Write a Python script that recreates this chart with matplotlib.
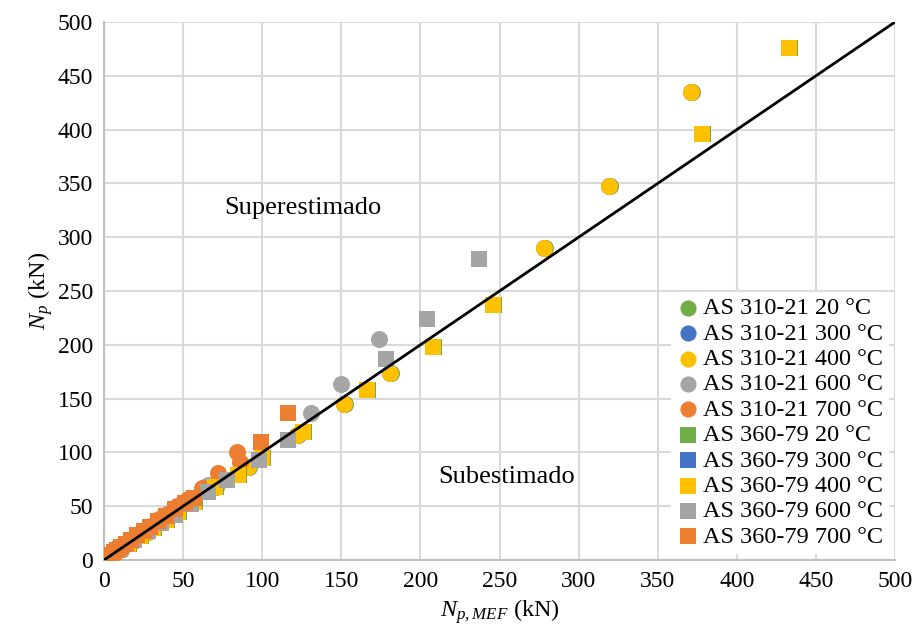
import matplotlib
matplotlib.use("Agg")
import matplotlib.pyplot as plt

plt.rcParams['font.family'] = ['Liberation Serif', 'DejaVu Serif']
plt.rcParams['mathtext.fontset'] = 'custom'
plt.rcParams['mathtext.rm'] = 'Liberation Serif'
plt.rcParams['mathtext.it'] = 'Liberation Serif:italic'

# ---- data (N_p,MEF , N_p) ----
c20_x = [5.6, 10.6, 18.6, 27.6, 36.6, 45.6, 55.6, 70.6, 91.6, 122.6, 152.6, 181.6, 278.6, 319.6, 371.6]
c20_y = [6, 10, 18, 26, 35, 44, 53, 68, 86, 116, 145, 174, 290, 348, 435]
c300_x = [5, 10, 18, 27, 36, 45, 55, 70, 91, 122, 152, 181, 278, 319, 371]
c300_y = [6, 10, 18, 26, 35, 44, 53, 68, 86, 116, 145, 174, 290, 348, 435]
c400_x = [5, 10, 18, 27, 36, 45, 55, 70, 91, 122, 152, 181, 278, 319, 371]
c400_y = [6, 10, 18, 26, 35, 44, 53, 68, 86, 116, 145, 174, 290, 348, 435]
c600_x = [8, 16, 25, 34, 44, 54, 66, 131, 150, 174]
c600_y = [9, 17, 27, 37, 47, 57, 70, 137, 164, 205]
c700_x = [3, 5, 7, 9, 12, 15, 18, 22, 26, 30, 35, 40, 46, 53, 62, 72, 84, 86]
c700_y = [4, 6, 8, 10, 13, 16, 20, 24, 28, 32, 38, 43, 50, 57, 67, 81, 100, 91]

s20_x = [8.6, 15.6, 23.6, 31.6, 39.6, 47.6, 57.6, 70.6, 85.6, 100.6, 126.6, 166.6, 208.6, 246.6, 378.6, 433.6]
s20_y = [9, 15, 22, 30, 37, 45, 54, 68, 79, 95, 119, 158, 198, 237, 396, 476]
s300_x = [8, 15, 23, 31, 39, 47, 57, 70, 85, 100, 126, 166, 208, 246, 378, 433]
s300_y = [9, 15, 22, 30, 37, 45, 54, 68, 79, 95, 119, 158, 198, 237, 396, 476]
s400_x = [8, 15, 23, 31, 39, 47, 57, 70, 85, 100, 126, 166, 208, 246, 378, 433]
s400_y = [9, 15, 22, 30, 37, 45, 54, 68, 79, 95, 119, 158, 198, 237, 396, 476]
s600_x = [10, 19, 28, 36, 45, 55, 66, 78, 98, 116, 178, 204, 237]
s600_y = [10, 19, 27, 34, 42, 52, 63, 74, 93, 112, 187, 224, 280]
s700_x = [4, 6, 8, 11, 14, 17, 21, 25, 29, 34, 39, 45, 51, 57, 99, 116]
s700_y = [5, 7, 9, 12, 15, 19, 23, 27, 31, 36, 41, 47, 53, 58, 110, 137]

ref_x = [0, 500]
ref_y = [0, 500]

labels = ['AS 310-21 20 °C', 'AS 310-21 300 °C', 'AS 310-21 400 °C',
          'AS 310-21 600 °C', 'AS 310-21 700 °C',
          'AS 360-79 20 °C', 'AS 360-79 300 °C', 'AS 360-79 400 °C',
          'AS 360-79 600 °C', 'AS 360-79 700 °C']
colors = ['#70ad47', '#4472c4', '#ffc000', '#a5a5a5', '#ed7d31'] * 2
markers = ['o'] * 5 + ['s'] * 5
series = [(c20_x, c20_y), (c300_x, c300_y), (c400_x, c400_y), (c600_x, c600_y), (c700_x, c700_y),
          (s20_x, s20_y), (s300_x, s300_y), (s400_x, s400_y), (s600_x, s600_y), (s700_x, s700_y)]

fig = plt.figure(figsize=(9.19, 6.44), dpi=100)
ax = fig.add_axes([0.1132, 0.1304, 0.8607, 0.8354])

handles = []
for (xs, ys), lab, col, mk in zip(series, labels, colors, markers):
    size = 150 if mk == 'o' else 130
    h = ax.scatter(xs, ys, s=size, marker=mk, color=col, label=lab,
                   linewidths=0, zorder=3)
    handles.append(h)

ax.plot(ref_x, ref_y, color='black', lw=2, zorder=4)

ax.set_xlim(0, 500)
ax.set_ylim(0, 500)
ax.set_xticks(range(0, 501, 50))
ax.set_yticks(range(0, 501, 50))
ax.grid(True, color='#d9d9d9', lw=1.5, zorder=0)
ax.set_axisbelow(True)
for side in ['top', 'right']:
    ax.spines[side].set_visible(False)
for side in ['left', 'bottom']:
    ax.spines[side].set_color('#bfbfbf')
    ax.spines[side].set_linewidth(1.5)
ax.tick_params(axis='both', length=0, labelsize=17, pad=8)

ax.set_xlabel(r'$N_{p,MEF}$ (kN)', fontsize=17.5, labelpad=4)
ax.set_ylabel(r'$N_{p}$ (kN)', fontsize=17.5, labelpad=2)

ax.text(76, 327, 'Superestimado', fontsize=19, ha='left', va='center', zorder=5)
ax.text(211, 77, 'Subestimado', fontsize=19, ha='left', va='center', zorder=5)

leg = ax.legend(handles=handles, loc='lower right', bbox_to_anchor=(1.0, 0.0),
                fontsize=17.5, frameon=True, framealpha=1, edgecolor='white',
                facecolor='white', handletextpad=0.1, labelspacing=0.14,
                borderpad=0.2, handlelength=1.0, markerscale=0.95,
                borderaxespad=0.3)

fig.savefig('out.png', dpi=100)
